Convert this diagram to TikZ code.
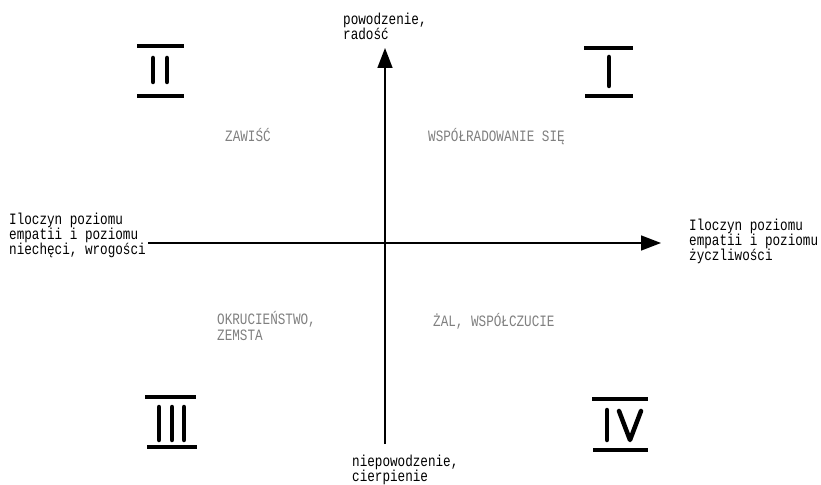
\documentclass[tikz,border=0pt]{standalone}
\usepackage{fontspec}
\setmainfont[FakeStretch=0.8]{Liberation Mono}
\usetikzlibrary{arrows.meta}

\tikzset{
  axislabel/.style={align=left, anchor=west, inner sep=0pt, font=\fontsize{15.8bp}{15bp}\selectfont},
  quadlabel/.style={axislabel, text=black!50},
  axis/.style={line width=1.5bp, -{Triangle[length=20bp,width=15bp]}},
  bar/.style={line width=4bp},
  stroke/.style={line width=4.5bp, line cap=round},
}

\begin{document}
\begin{tikzpicture}[x=1bp,y=-1bp]
	\useasboundingbox (0,0) rectangle (821,485);
	
	% Axis labels
	\node[axislabel] (good) at (343,26) {powodzenie,\\radość};
	\node[axislabel] (bad) at (352,470) {niepowodzenie,\\cierpienie};
	\node[axislabel] (hostile) at (9,235) {Iloczyn poziomu\\empatii i poziomu\\niechęci, wrogości};
	\node[axislabel] (kind) at (689,241) {Iloczyn poziomu\\empatii i poziomu\\życzliwości};
	
	% Axes
	\coordinate (top) at (385,48);
	\coordinate (bottom) at (385,444);
	\coordinate (left) at (148,243);
	\coordinate (right) at (661,243);
	\draw[axis] (bottom) -- (top);
	\draw[axis] (left) -- (right);
	
	% Quadrant labels
	\node[quadlabel] (envy) at (225,135) {ZAWIŚĆ};
	\node[quadlabel] (joy) at (428,137) {WSPÓŁRADOWANIE SIĘ};
	\node[quadlabel] (cruel) at (217,326) {OKRUCIEŃSTWO,\\ZEMSTA};
	\node[quadlabel] (pity) at (433,321) {ŻAL, WSPÓŁCZUCIE};
	
	% Numeral I
	\draw[bar] (584,48) -- (633,48) (585,96) -- (633,96);
	\draw[stroke] (609,57) -- (609,86);
	
	% Numeral II
	\draw[bar] (137,46) -- (184,46) (137,96) -- (184,96);
	\draw[stroke] (153,58) -- (153,82) (167,58) -- (167,82);
	
	% Numeral III
	\draw[bar] (145,397) -- (196,397) (147,447) -- (197,447);
	\draw[stroke] (159,407) -- (159,440) (172,407) -- (172,440) (184,407) -- (184,440);
	
	% Numeral IV
	\draw[bar] (592,399) -- (648,399) (593,450) -- (648,450);
	\draw[stroke] (607,410) -- (607,440);
	\draw[stroke, line join=round] (619,411) -- (630,440) -- (641,411);
\end{tikzpicture}
\end{document}
